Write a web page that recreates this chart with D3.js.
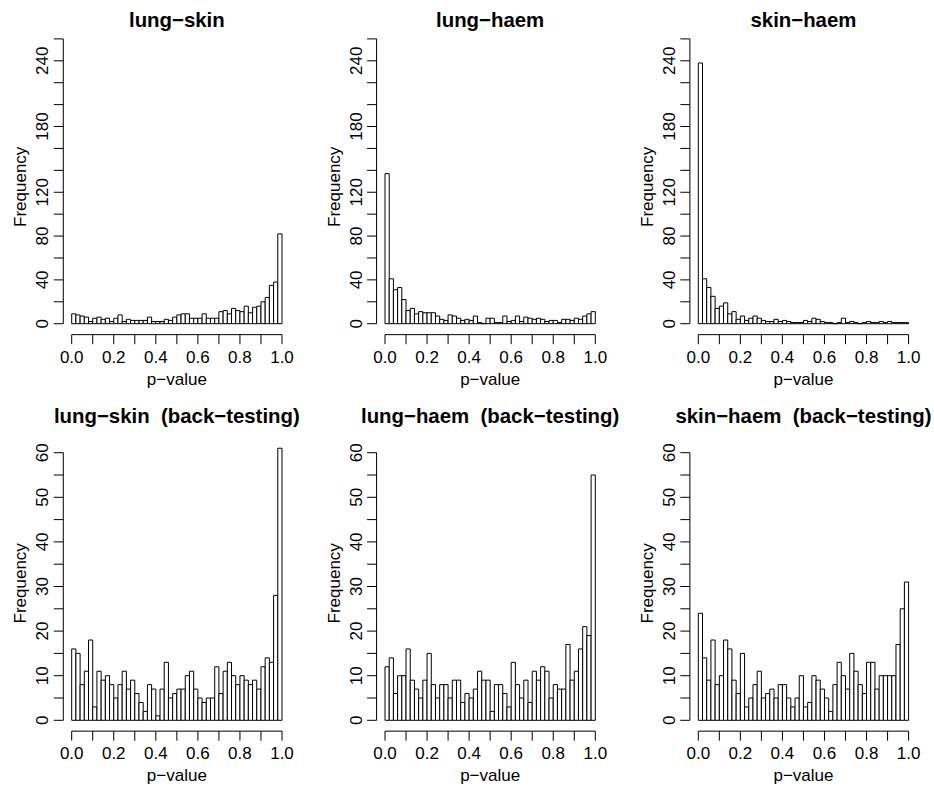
<!DOCTYPE html>
<html>
<head>
<meta charset="utf-8">
<script src="https://cdn.jsdelivr.net/npm/d3@7"></script>
<style>
  html, body { margin: 0; padding: 0; background: #fff; }
  svg { display: block; }
  text { font-family: "Liberation Sans", Arial, Helvetica, sans-serif; fill: #000; white-space: pre; }
</style>
</head>
<body>
<svg id="chart" width="934" height="793"></svg>
<script>
// ---- data (counts per 0.02-wide p-value bin, 50 bins from 0 to 1) ----
const titles = [
  "lung\u2212skin", "lung\u2212haem", "skin\u2212haem",
  "lung\u2212skin  (back\u2212testing)", "lung\u2212haem  (back\u2212testing)", "skin\u2212haem  (back\u2212testing)"
];
const lungSkin = [9,8,7,6,2,5,6,4,5,2, 5,8,2,4,3,3,3,3,6,2, 2,2,4,3,6,8,9,9,5,5, 5,9,5,5,5,11,12,9,14,12, 11,16,10,15,16,20,24,35,38,82];
const lungHaem = [137,41,31,33,22,12,14,9,11,10, 10,10,7,4,3,8,7,5,3,4, 3,7,1,0,5,5,1,1,7,2, 3,7,2,6,5,4,5,4,2,3, 3,1,4,4,3,5,4,7,9,11];
const skinHaem = [238,41,33,25,14,16,19,9,11,4, 7,3,5,7,5,3,2,2,4,2, 3,2,1,1,1,3,2,5,4,2, 1,1,0,1,5,1,2,1,0,1, 2,1,1,2,1,2,1,1,1,1];
const lungSkinBT = [16,15,8,11,18,3,11,9,10,8, 5,8,11,7,9,6,4,2,8,7, 1,7,13,5,6,7,7,10,11,7, 5,4,5,5,12,6,11,13,10,8, 10,9,8,9,7,12,14,13,28,61];
const lungHaemBT = [12,14,6,10,10,16,9,7,5,9, 15,8,5,8,8,5,9,9,4,6, 5,7,11,9,9,2,8,8,6,3, 13,8,5,9,4,11,9,12,11,5, 8,7,7,17,9,11,16,21,19,55];
const skinHaemBT = [24,14,9,18,8,10,18,16,9,6, 15,3,5,8,11,5,6,7,5,8, 8,5,3,5,10,3,4,10,9,7, 5,2,8,13,10,7,15,11,8,6, 13,13,7,10,10,10,10,17,25,31];
const series = [lungSkin, lungHaem, skinHaem, lungSkinBT, lungHaemBT, skinHaemBT];

const xTicks = [0,0.1,0.2,0.3,0.4,0.5,0.6,0.7,0.8,0.9,1.0];
const xTickLabels = ["0.0","0.2","0.4","0.6","0.8","1.0"];
const topYTicks = [0,20,40,60,80,100,120,140,160,180,200,220,240,260];
const topYLabels = [0,40,80,120,180,240];
const botYTicks = [0,5,10,15,20,25,30,35,40,45,50,55,60];
const botYLabels = [0,10,20,30,40,50,60];
const xLabel = "p\u2212value";
const yLabel = "Frequency";

// ---- layout ----
const svg = d3.select("#chart");
const colX0 = [71.7, 385, 698.3];     // pixel of p = 0
const unitW = 210.3;                  // pixels per 1.0 of p
const rows = [
  { zeroY: 323.7, topTickY: 323.7 - 260 * 1.0954, domainTop: 260, plotTop: 39, plotBottom: 334.65,
    ticks: topYTicks, labels: topYLabels, titleY: 26.5 },
  { zeroY: 720.3, topTickY: 452.7, domainTop: 60, plotTop: 435.5, plotBottom: 731.15,
    ticks: botYTicks, labels: botYLabels, titleY: 423 }
];
const tickLen = 9.5;
const fs = 17;

series.forEach((counts, i) => {
  const c = i % 3, r = Math.floor(i / 3);
  const R = rows[r];
  const x = d3.scaleLinear().domain([0, 1]).range([colX0[c], colX0[c] + unitW]);
  const y = d3.scaleLinear().domain([0, R.domainTop]).range([R.zeroY, R.topTickY]);
  const axisX = x(-0.04);
  const axisY = R.plotBottom;
  const g = svg.append("g");

  const n = counts.length;
  const bins = counts.map((v, k) => ({ x0: k / n, x1: (k + 1) / n, v }));

  g.selectAll("path.bar").data(bins).enter().append("path")
    .attr("class", "bar")
    .attr("d", d => `M${x(d.x0)},${y(0)}V${y(d.v)}H${x(d.x1)}V${y(0)}Z`)
    .attr("fill", "#fff").attr("stroke", "#000").attr("stroke-width", 1);

  // x axis
  const xa = g.append("g");
  xa.append("line").attr("x1", x(0)).attr("x2", x(1)).attr("y1", axisY).attr("y2", axisY)
    .attr("stroke", "#000").attr("stroke-width", 1);
  xa.selectAll("line.t").data(xTicks).enter().append("line").attr("class", "t")
    .attr("x1", d => x(d)).attr("x2", d => x(d)).attr("y1", axisY).attr("y2", axisY + tickLen)
    .attr("stroke", "#000").attr("stroke-width", 1);
  xa.selectAll("text").data(xTickLabels).enter().append("text")
    .attr("x", d => x(+d)).attr("y", axisY + 28)
    .attr("text-anchor", "middle").attr("font-size", fs).text(d => d);

  // y axis
  const ya = g.append("g");
  ya.append("line").attr("x1", axisX).attr("x2", axisX)
    .attr("y1", y(0)).attr("y2", y(R.ticks[R.ticks.length - 1]))
    .attr("stroke", "#000").attr("stroke-width", 1);
  ya.selectAll("line.t").data(R.ticks).enter().append("line").attr("class", "t")
    .attr("x1", axisX - tickLen).attr("x2", axisX).attr("y1", d => y(d)).attr("y2", d => y(d))
    .attr("stroke", "#000").attr("stroke-width", 1);
  ya.selectAll("text").data(R.labels).enter().append("text")
    .attr("transform", d => `translate(${axisX - 15},${y(d)}) rotate(-90)`)
    .attr("text-anchor", "middle").attr("font-size", fs).text(d => d);

  const cx = (x(-0.04) + x(1.04)) / 2;
  const cy = (R.plotTop + R.plotBottom) / 2;
  g.append("text").attr("x", cx).attr("y", axisY + 50)
    .attr("text-anchor", "middle").attr("font-size", fs).text(xLabel);
  g.append("text").attr("transform", `translate(${axisX - 37},${cy}) rotate(-90)`)
    .attr("text-anchor", "middle").attr("font-size", fs).text(yLabel);
  g.append("text").attr("x", cx).attr("y", R.titleY)
    .attr("text-anchor", "middle").attr("font-size", 20.4).attr("font-weight", "bold")
    .text(titles[i]);
});
</script>
</body>
</html>
